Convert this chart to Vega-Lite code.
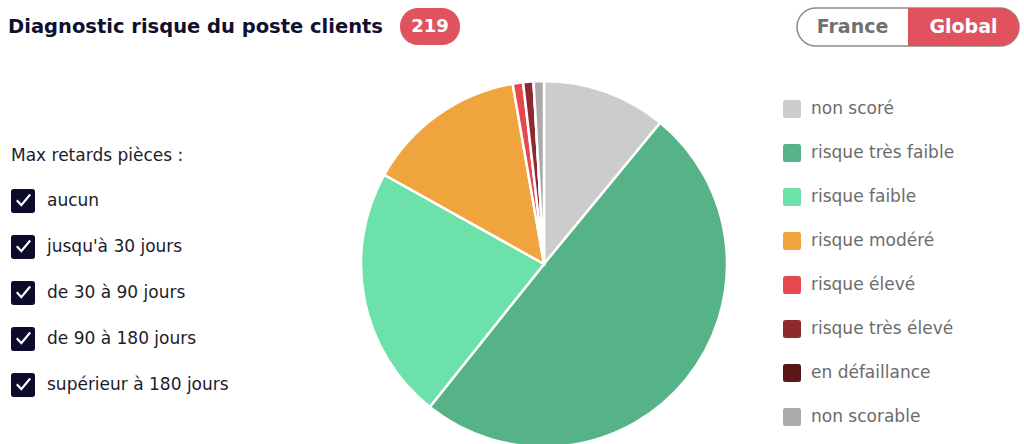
{
  "$schema": "https://vega.github.io/schema/vega-lite/v6.json",
  "padding": {"left": 0, "top": 7, "right": 0, "bottom": 0},
  "background": "white",
  "config": {"view": {"stroke": null}, "font": "DejaVu Sans"},
  "datasets": {
    "risques": [
      {"risque": "non scoré", "clients": 24},
      {"risque": "risque très faible", "clients": 109},
      {"risque": "risque faible", "clients": 49},
      {"risque": "risque modéré", "clients": 31},
      {"risque": "risque élevé", "clients": 2},
      {"risque": "risque très élevé", "clients": 2},
      {"risque": "en défaillance", "clients": 0},
      {"risque": "non scorable", "clients": 2}
    ],
    "retards": [
      {"retard": "aucun"},
      {"retard": "jusqu'à 30 jours"},
      {"retard": "de 30 à 90 jours"},
      {"retard": "de 90 à 180 jours"},
      {"retard": "supérieur à 180 jours"}
    ],
    "vues": [
      {"vue": "France", "active": false},
      {"vue": "Global", "active": true}
    ],
    "titre": [{"titre": "Diagnostic risque du poste clients"}]
  },
  "vconcat": [
    {
      "hconcat": [
        {
          "hconcat": [
            {
              "width": 391,
              "height": 38,
              "data": {"name": "titre"},
              "mark": {"type": "text", "font": "DejaVu Sans", "fontSize": 19.5, "fontWeight": "bold", "color": "#10102e"},
              "encoding": {"text": {"field": "titre", "type": "nominal"}}
            },
            {
              "width": 60,
              "height": 37,
              "data": {"name": "risques"},
              "transform": [{"aggregate": [{"op": "sum", "field": "clients", "as": "total"}]}],
              "layer": [
                {"mark": {"type": "rect", "color": "#e0535e", "cornerRadius": 18}, "encoding": {}},
                {"mark": {"type": "text", "color": "white", "fontSize": 18, "fontWeight": "bold", "font": "DejaVu Sans"}, "encoding": {"text": {"field": "total", "type": "quantitative"}}}
              ]
            }
          ],
          "spacing": 9
        },
        {
          "width": 222,
          "height": 38,
          "data": {"name": "vues"},
          "layer": [
            {
              "transform": [{"filter": "datum.vue === 'France'"}],
              "mark": {"type": "rect", "fill": "white", "stroke": "#8a8a8a", "strokeWidth": 1.5, "cornerRadius": 19},
              "encoding": {}
            },
            {
              "transform": [{"filter": "datum.active"}],
              "mark": {"type": "rect", "color": "#e0535e", "cornerRadiusTopRight": 19, "cornerRadiusBottomRight": 19},
              "encoding": {
                "x": {"field": "vue", "type": "nominal", "axis": null, "scale": {"domain": ["France", "Global"], "paddingInner": 0, "paddingOuter": 0}}
              }
            },
            {
              "mark": {"type": "text", "fontSize": 19, "fontWeight": "bold", "font": "DejaVu Sans"},
              "encoding": {
                "x": {"field": "vue", "type": "nominal", "axis": null},
                "text": {"field": "vue", "type": "nominal"},
                "color": {"condition": {"test": "datum.active", "value": "white"}, "value": "#707070"}
              }
            }
          ]
        }
      ],
      "spacing": 336
    },
    {
      "hconcat": [
        {
          "width": 348,
          "height": 366,
          "data": {"name": "retards"},
          "mark": {"type": "point", "filled": true, "opacity": 0, "color": "#0d0b2b"},
          "encoding": {
            "shape": {
              "field": "retard",
              "type": "nominal",
              "scale": {
                "domain": ["aucun", "jusqu'à 30 jours", "de 30 à 90 jours", "de 90 à 180 jours", "supérieur à 180 jours"],
                "range": [
                  "M-0.78,-1H0.78Q1,-1,1,-0.78V0.78Q1,1,0.78,1H-0.78Q-1,1,-1,0.78V-0.78Q-1,-1,-0.78,-1ZM-0.585,0.002L-0.136,0.475L0.669,-0.482L0.531,-0.598L-0.144,0.205L-0.455,-0.122Z",
                  "M-0.78,-1H0.78Q1,-1,1,-0.78V0.78Q1,1,0.78,1H-0.78Q-1,1,-1,0.78V-0.78Q-1,-1,-0.78,-1ZM-0.585,0.002L-0.136,0.475L0.669,-0.482L0.531,-0.598L-0.144,0.205L-0.455,-0.122Z",
                  "M-0.78,-1H0.78Q1,-1,1,-0.78V0.78Q1,1,0.78,1H-0.78Q-1,1,-1,0.78V-0.78Q-1,-1,-0.78,-1ZM-0.585,0.002L-0.136,0.475L0.669,-0.482L0.531,-0.598L-0.144,0.205L-0.455,-0.122Z",
                  "M-0.78,-1H0.78Q1,-1,1,-0.78V0.78Q1,1,0.78,1H-0.78Q-1,1,-1,0.78V-0.78Q-1,-1,-0.78,-1ZM-0.585,0.002L-0.136,0.475L0.669,-0.482L0.531,-0.598L-0.144,0.205L-0.455,-0.122Z",
                  "M-0.78,-1H0.78Q1,-1,1,-0.78V0.78Q1,1,0.78,1H-0.78Q-1,1,-1,0.78V-0.78Q-1,-1,-0.78,-1ZM-0.585,0.002L-0.136,0.475L0.669,-0.482L0.531,-0.598L-0.144,0.205L-0.455,-0.122Z"
                ]
              },
              "legend": {
                "title": "Max retards pièces :",
                "orient": "none",
                "legendX": 11,
                "legendY": 140,
                "padding": 0,
                "symbolSize": 576,
                "symbolFillColor": "#0d0b2b",
                "symbolStrokeWidth": 0,
                "symbolOpacity": 1,
                "titleFont": "DejaVu Sans",
                "titleFontSize": 17,
                "titleFontWeight": "normal",
                "titleColor": "#1c1c2c",
                "titlePadding": 24,
                "labelFont": "DejaVu Sans",
                "labelFontSize": 17,
                "labelColor": "#1c1c2c",
                "labelOffset": 12,
                "rowPadding": 22,
                "labelLimit": 300
              }
            }
          }
        },
        {
          "width": 366,
          "height": 366,
          "data": {"name": "risques"},
          "transform": [{"window": [{"op": "row_number", "as": "ordre"}]}],
          "mark": {"type": "arc", "stroke": "white", "strokeWidth": 2.5},
          "encoding": {
            "theta": {"field": "clients", "type": "quantitative", "stack": true},
            "order": {"field": "ordre", "type": "quantitative"},
            "color": {
              "field": "risque",
              "type": "nominal",
              "scale": {
                "domain": ["non scoré", "risque très faible", "risque faible", "risque modéré", "risque élevé", "risque très élevé", "en défaillance", "non scorable"],
                "range": ["#cccccc", "#55b387", "#6de1aa", "#efa43e", "#e6484f", "#8e2a2f", "#591618", "#aaaaaa"]
              },
              "legend": {
                "title": null,
                "orient": "none",
                "legendX": 783,
                "legendY": 92,
                "padding": 0,
                "symbolType": "M-0.72,-1H0.72Q1,-1,1,-0.72V0.72Q1,1,0.72,1H-0.72Q-1,1,-1,0.72V-0.72Q-1,-1,-0.72,-1Z",
                "symbolSize": 324,
                "symbolStrokeWidth": 0,
                "symbolOpacity": 1,
                "labelFont": "DejaVu Sans",
                "labelFontSize": 17,
                "labelColor": "#6b6b6b",
                "labelOffset": 10,
                "rowPadding": 26,
                "labelLimit": 300
              }
            }
          }
        }
      ],
      "spacing": 8
    }
  ],
  "spacing": 29
}
